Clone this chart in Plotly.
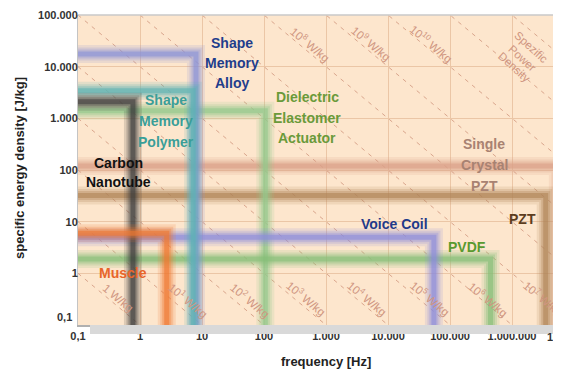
import plotly.graph_objects as go

# ---------------- data ----------------
materials = ["Single Crystal PZT", "PZT", "Dielectric Elastomer Actuator", "PVDF",
             "Voice Coil", "Shape Memory Alloy", "Shape Memory Polymer",
             "Carbon Nanotube", "Muscle"]
max_freq = [5.5e6, 3.5e6, 105, 4.5e5, 5.5e4, 8.0, 7.2, 0.77, 2.7]          # Hz
max_energy = [120, 32, 1400, 1.9, 5.0, 17600, 3400, 2100, 6.0]            # J/kg
band_colors = ["#dba088", "#b08558", "#93c98c", "#86bf78", "#8c8cdc",
               "#8a92d8", "#5cb4b4", "#3c3c3c", "#f07830"]

power_density_exp = list(range(-1, 13))            # reference lines E*f = 10^k  (W/kg)
power_labels = ["1 W/kg", "10<sup>1</sup> W/kg", "10<sup>2</sup> W/kg", "10<sup>3</sup> W/kg",
                "10<sup>4</sup> W/kg", "10<sup>5</sup> W/kg", "10<sup>6</sup> W/kg",
                "10<sup>7</sup> W/kg", "10<sup>8</sup> W/kg", "10<sup>9</sup> W/kg",
                "10<sup>10</sup> W/kg"]

x_tick_vals = [0.1, 1, 10, 100, 1e3, 1e4, 1e5, 1e6]
x_tick_text = ["0,1", "1", "10", "100", "1.000", "10.000", "100.000", "1.000.000"]
y_tick_vals = [1, 10, 100, 1e3, 1e4, 1e5]
y_tick_text = ["1", "10", "100", "1.000", "10.000", "100.000"]

# ---------------- geometry (page pixels; page body has an 8px margin) ----------------
OFF = 8
PAGE_W, PAGE_H = 561, 371
W, H = PAGE_W - OFF, PAGE_H - OFF
L, T, B, R = 78, 15, 325, 561          # plot area in page pixels
def xp(px): return (px - L) / (R - L)
def yp(py): return (B - py) / (B - T)

FONT = "Liberation Sans, Arial, sans-serif"
fig = go.Figure()

# power density reference lines
for k in power_density_exp:
    p = 10.0 ** k
    fig.add_trace(go.Scatter(x=[0.1, p / 0.1], y=[p / 0.1, 0.1], mode="lines",
                             line=dict(color="#d9a58c", width=1, dash="4px,5px"),
                             hoverinfo="skip", showlegend=False))

# material bands (soft / blurred L-shapes)
layers = [(18, 0.16), (13, 0.22), (9, 0.32), (5, 0.6)]
for name, f, e, c in zip(materials, max_freq, max_energy, band_colors):
    for w, op in layers:
        fig.add_trace(go.Scatter(x=[0.1, f, f], y=[e, e, 0.1], mode="lines",
                                 line=dict(color=c, width=w), opacity=op,
                                 hoverinfo="skip", showlegend=False, name=name))

ann = []
def label(text, px, py, color, size=14, bold=True, angle=0, xanchor="center"):
    ann.append(dict(text=("<b>%s</b>" % text) if bold else text, x=xp(px), y=yp(py),
                    xref="paper", yref="paper", showarrow=False, textangle=angle,
                    font=dict(family=FONT, size=size, color=color),
                    xanchor=xanchor, yanchor="middle"))

# material labels
for t, py in zip(["Shape", "Memory", "Alloy"], [43, 63, 83]):
    label(t, 232, py, "#1f3d8c")
for t, py in zip(["Shape", "Memory", "Polymer"], [100, 121, 142]):
    label(t, 166, py, "#3a9e98")
for t, py in zip(["Dielectric", "Elastomer", "Actuator"], [97, 118, 138]):
    label(t, 307, py, "#6a9a3a")
for t, py in zip(["Single", "Crystal", "PZT"], [144, 165, 186]):
    label(t, 484, py, "#a88272")
label("PZT", 522, 219, "#5c3d1e")
label("Voice Coil", 394, 224, "#1f3a8a")
label("PVDF", 467, 247, "#5a9a30")
label("Carbon", 118, 163, "#111111")
label("Nanotube", 118, 182, "#111111")
label("Muscle", 123, 273, "#e8652a")

# power density labels
pl_pos = [(118, 298), (188, 300), (250, 300), (306, 298), (367, 298), (430, 298),
          (488, 299), (543, 298), (310, 44), (371, 43), (431, 43)]
for t, (px, py) in zip(power_labels, pl_pos):
    label(t, px, py, "#cf9580", size=11.5, bold=False, angle=40)
for t, (px, py) in zip(["Spezific", "Power", "Density"], [(531, 47), (522, 58), (514, 67)]):
    label(t, px, py, "#cf9580", size=11.5, bold=False, angle=42)

# extra tick labels
label("0,1", 74, 317, "#333333", size=11, xanchor="right")
label("10.000.000", L + 8 * 62, 337, "#333333", size=11)
# axis titles
label("frequency [Hz]", 326, 361, "#222222", size=13)
label("specific energy density [J/kg]", 19, 168, "#222222", size=13, angle=-90)

shapes = [
    # shadow below the x axis
    dict(type="rect", xref="paper", yref="paper", x0=xp(90), x1=1.0, y0=yp(334), y1=yp(325),
         fillcolor="#d9d9d9", line=dict(width=0), layer="above"),
    # top border
    dict(type="line", xref="paper", yref="paper", x0=0, x1=1, y0=1, y1=1,
         line=dict(color="#c8c8c8", width=1.5)),
]

fig.update_layout(
    width=W, height=H,
    margin=dict(l=L - OFF, r=PAGE_W - R, t=T - OFF, b=PAGE_H - B, pad=0),
    paper_bgcolor="white", plot_bgcolor="#fde6cd",
    showlegend=False,
    annotations=ann, shapes=shapes,
    xaxis=dict(type="log", range=[-1, -1 + (R - L) / 62], tickvals=x_tick_vals, ticktext=x_tick_text,
               showgrid=True, gridcolor="#ebc6a6", gridwidth=1, zeroline=False,
               showline=True, linecolor="#b0b0b0", linewidth=2, ticks="",
               ticklabelstandoff=0,
               tickfont=dict(family=FONT, size=11, color="#333333", weight="bold")),
    yaxis=dict(type="log", range=[-1, 5], tickvals=y_tick_vals, ticktext=y_tick_text,
               showgrid=True, gridcolor="#ebc6a6", gridwidth=1, zeroline=False,
               showline=True, linecolor="#c4c4c4", linewidth=1, ticks="",
               ticklabelstandoff=-3,
               tickfont=dict(family=FONT, size=11, color="#333333", weight="bold")),
)

fig.write_html("out.html")
